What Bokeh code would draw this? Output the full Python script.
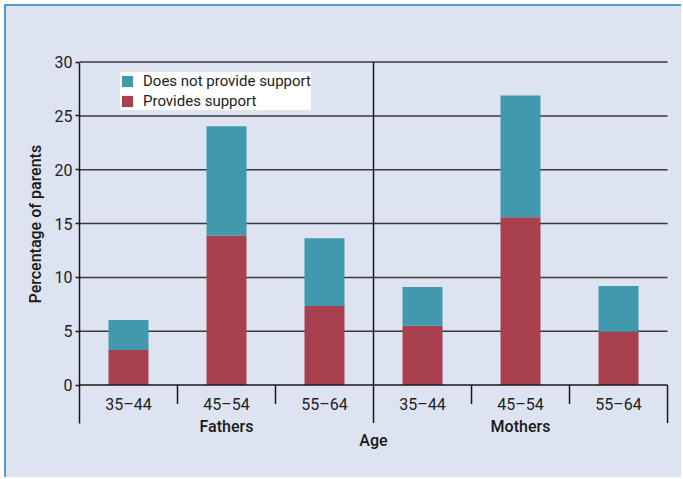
from bokeh.plotting import figure
from bokeh.models import ColumnDataSource, Range1d, FixedTicker, Title
from bokeh.core.properties import value
from bokeh.embed import file_html
from bokeh.resources import INLINE

groups = ["Fathers", "Mothers"]
ages = ["35–44", "45–54", "55–64"]
provides = [3.25, 13.9, 7.35, 5.5, 15.6, 4.95]
not_provides = [2.8, 10.15, 6.3, 3.6, 11.3, 4.25]
y_ticks = [0, 5, 10, 15, 20, 25, 30]
grid_ticks = [5, 10, 15, 20, 25, 30]

FONT = "Roboto"
BOLD = "Roboto Medium"
BG = "#dde3f0"
TEAL = "#4299ad"
RED = "#a8404f"
INK = "#1a1a1a"

n_per = len(ages)
n = len(groups) * n_per
xs = [i + 0.5 for i in range(n)]
cat_labels = ages * len(groups)
group_x = [g * n_per + n_per / 2 for g in range(len(groups))]

src = ColumnDataSource(dict(x=xs, provides=provides, not_provides=not_provides))

p = figure(width=677, height=473,
           x_range=Range1d(0, 6.163), y_range=Range1d(-8.77, 30.15),
           output_backend="svg", toolbar_location=None,
           min_border_left=73, min_border_top=54,
           min_border_right=0, min_border_bottom=0)
p.background_fill_color = None
p.border_fill_color = None
p.outline_line_color = None
p.styles = {"margin-left": "4px", "margin-top": "4px", "background-color": BG,
            "border-left": "2px solid #5d97c9", "border-top": "2px solid #5d97c9"}

p.xaxis.visible = False
p.xgrid.visible = False
p.ygrid.visible = False

yax = p.yaxis[0]
yax.ticker = FixedTicker(ticks=y_ticks)
yax.bounds = (-3.53, 30)
yax.axis_line_color = INK
yax.axis_line_width = 1.5
yax.major_tick_in = 0
yax.major_tick_out = 4
yax.major_tick_line_color = INK
yax.major_tick_line_width = 1.5
yax.minor_tick_line_color = None
yax.major_label_text_font = FONT
yax.major_label_text_font_size = "16px"
yax.major_label_text_color = "#222222"
yax.major_label_standoff = 3

ytitle = Title(text="Percentage of parents", align="left", offset=176,
               text_font=BOLD, text_font_size="16px", text_font_style="normal",
               text_color=INK, standoff=13)
p.add_layout(ytitle, "left")

# horizontal grid lines
p.segment(x0=[0] * len(grid_ticks), y0=grid_ticks, x1=[n] * len(grid_ticks),
          y1=grid_ticks, line_color="#383838", line_width=1.5)

p.vbar_stack(["provides", "not_provides"], x="x", width=0.408, source=src,
             fill_color=[RED, TEAL], line_color=None,
             legend_label=["Provides support", "Does not provide support"])

# baseline and separators
p.segment(x0=[0], y0=[0], x1=[n], y1=[0], line_color=INK, line_width=1.5)
inner = [g * n_per + k for g in range(len(groups)) for k in range(1, n_per)]
p.segment(x0=inner, y0=[0] * len(inner), x1=inner, y1=[-1.76] * len(inner),
          line_color=INK, line_width=1.5)
p.segment(x0=[n_per], y0=[30], x1=[n_per], y1=[-3.53], line_color=INK, line_width=1.5)
p.segment(x0=[n], y0=[0], x1=[n], y1=[-3.53], line_color=INK, line_width=1.5)

p.text(x=xs, y=[-1.83] * n, text=cat_labels, text_align="center",
       text_baseline="alphabetic", text_font=value(FONT), text_font_size="16px",
       text_color="#222222")
p.text(x=group_x, y=[-3.87] * len(groups), text=groups, text_align="center",
       text_baseline="alphabetic", text_font=value(BOLD), text_font_size="16px",
       text_color=INK)
p.text(x=[n_per], y=[-5.14], text=["Age"], text_align="center",
       text_baseline="alphabetic", text_font=value(BOLD), text_font_size="16px",
       text_color=INK)

leg = p.legend[0]
leg.items = list(reversed(leg.items))
leg.location = (41, 369)
leg.margin = 0
leg.padding = 8
leg.spacing = 2
leg.glyph_width = 14
leg.glyph_height = 14
leg.label_height = 14
leg.label_standoff = 9
leg.label_text_font = FONT
leg.label_text_font_size = "15px"
leg.label_text_color = "#222222"
leg.background_fill_color = "white"
leg.background_fill_alpha = 1
leg.border_line_color = None

open("out.html", "w").write(file_html(p, INLINE))
